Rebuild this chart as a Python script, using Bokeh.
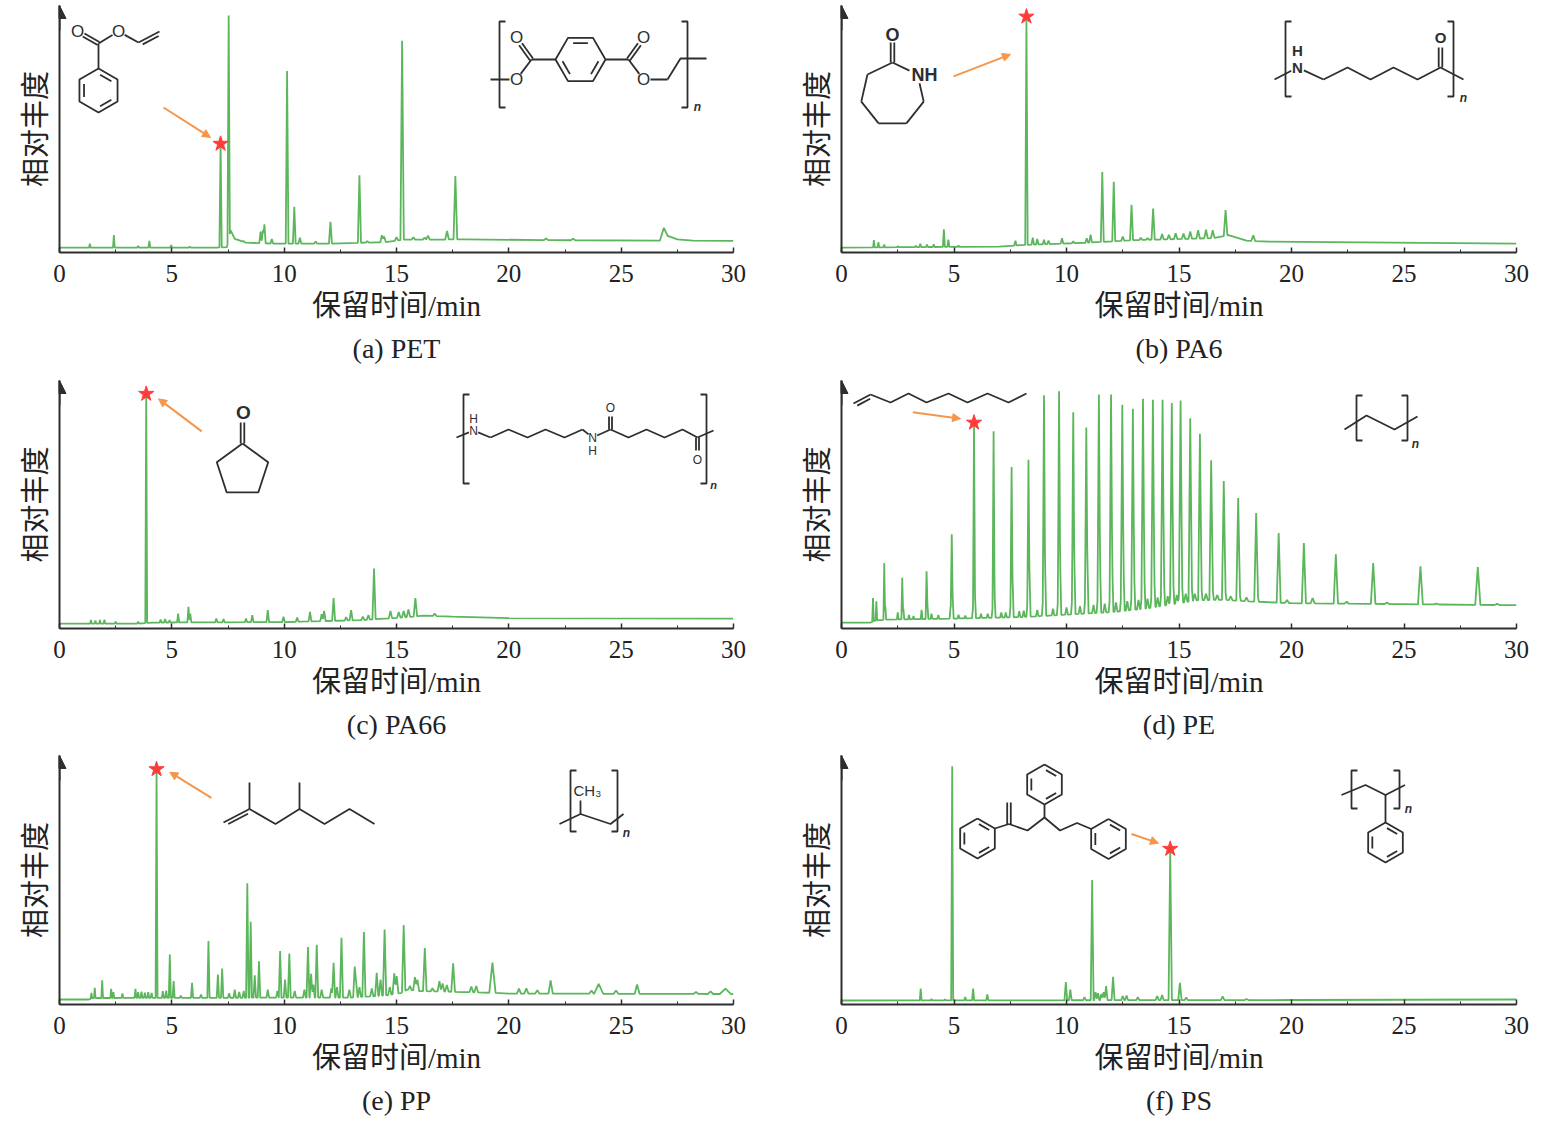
import numpy as np
from bokeh.plotting import figure
from bokeh.models import Arrow, NormalHead, Title, SingleIntervalTicker, FixedTicker, Range1d
from bokeh.layouts import column, row
from bokeh.embed import file_html
from bokeh.resources import INLINE
from bokeh.core.properties import value

# ---------------- data (retention time in min, relative abundance 0-100) ----------------
A_BASE_T = [0, 7.0, 7.45, 7.62, 7.8, 8.3, 9.5, 12.0, 14.5, 15.35, 18.0, 22.0, 26.75, 27.1, 27.5, 28.2, 30]
A_BASE_Y = [2.0, 2.0, 2.2, 9.0, 5.5, 4.0, 3.6, 3.6, 4.2, 5.2, 5.3, 5.0, 4.8, 6.6, 5.3, 4.8, 4.7]
A_PEAK_T = [1.35, 2.42, 3.5, 4.0, 4.97, 5.8, 7.17, 7.53, 8.2, 8.95, 9.05, 9.12, 9.45, 10.13, 10.45, 10.7,
            11.4, 12.06, 13.35, 13.7, 14.35, 14.45, 15.0, 15.25, 15.75, 16.25, 16.4, 17.25, 17.62, 21.66, 22.86]
A_PEAK_H = [3.6, 7.1, 2.6, 4.7, 3.0, 2.4, 44.0, 96.0, 4.6, 8.5, 9.0, 11.4, 5.5, 73.5, 18.5, 6.0,
            4.5, 12.4, 31.3, 4.6, 7.0, 6.5, 6.2, 85.7, 6.2, 6.0, 6.8, 8.7, 31.0, 5.7, 5.6]
A_BROAD_T = [26.9]
A_BROAD_H = [10.0]
A_BROAD_W = [0.18]

B_BASE_T = [0, 7.0, 8.0, 11.0, 13.0, 16.5, 17.2, 18.0, 19.0, 30]
B_BASE_Y = [2.0, 2.4, 3.0, 4.0, 5.0, 5.8, 7.0, 4.8, 4.4, 3.6]
B_PEAK_T = [1.44, 1.64, 1.9, 2.5, 3.3, 3.5, 3.8, 4.1, 4.55, 4.75, 5.2, 7.73, 8.22, 8.5, 8.7, 9.0, 9.2, 9.8,
            10.3, 10.9, 11.07, 11.59, 12.1, 12.5, 12.89, 13.3, 13.6, 13.85, 14.25, 14.55, 14.85, 15.2,
            15.5, 15.85, 16.2, 16.5, 17.07, 18.3]
B_PEAK_H = [5.0, 4.2, 3.2, 2.6, 2.8, 3.6, 3.2, 3.3, 9.4, 5.2, 2.8, 4.8, 94.0, 6.0, 5.5, 5.2, 4.8, 5.8,
            4.5, 5.8, 7.2, 32.6, 28.6, 6.5, 19.3, 6.0, 5.8, 17.8, 7.5, 7.2, 7.8, 7.7,
            8.5, 9.0, 9.2, 9.0, 17.2, 7.0]

C_BASE_T = [0, 3.5, 4.2, 10.0, 13.5, 15.5, 16.2, 17.5, 20.0, 30]
C_BASE_Y = [2.0, 2.0, 2.4, 2.6, 3.4, 4.6, 5.2, 4.8, 4.2, 4.0]
C_PEAK_T = [1.4, 1.6, 1.8, 2.0, 2.5, 3.5, 3.86, 4.5, 4.7, 4.9, 5.28, 5.74, 5.82, 6.98, 7.3, 8.3, 8.58,
            9.27, 9.97, 10.58, 11.15, 11.67, 11.78, 12.2, 12.76, 12.98, 13.5, 13.75, 14.0, 14.73, 15.1,
            15.32, 15.53, 15.84, 16.7]
C_PEAK_H = [3.4, 3.2, 3.4, 3.6, 2.8, 2.8, 94.6, 3.6, 3.8, 3.4, 6.0, 8.7, 6.0, 4.0, 3.8, 4.0, 5.4,
            7.4, 4.7, 4.4, 6.7, 5.8, 7.1, 12.3, 4.6, 7.4, 4.8, 5.4, 24.2, 7.1, 6.7,
            7.1, 7.7, 12.3, 6.0]

D_BASE_T = [0, 1.3, 1.5, 2.0, 5.0, 8.0, 10.0, 12.0, 13.5, 15.0, 15.8, 17.0, 18.0, 20.0, 25.0, 30]
D_BASE_Y = [2.4, 2.4, 3.2, 3.6, 4.0, 4.6, 5.6, 6.6, 8.0, 10.2, 11.4, 11.6, 11.0, 10.2, 9.8, 9.4]
D_PEAK_T = [1.4, 1.55, 1.9, 2.7, 3.56, 3.78, 4.9, 5.89, 6.76, 7.56, 8.31, 9.0, 9.67, 10.3, 10.88, 11.44,
            11.98, 12.48, 12.95, 13.4, 13.84, 14.27, 14.68, 15.07, 15.5, 15.93, 16.43, 16.99, 17.63,
            18.43, 19.43, 20.55, 20.94, 21.97, 22.45, 23.63, 24.24, 25.73, 26.44, 28.28, 29.14]
D_PEAK_H = [12.3, 11.0, 26.4, 20.5, 7.5, 23.1, 38.0, 82.6, 79.5, 65.1, 68.0, 94.0, 95.7, 87.2, 81.0, 94.4,
            94.4, 90.2, 88.6, 92.6, 92.2, 92.2, 90.9, 91.9, 84.8, 78.5, 67.8, 59.5, 52.6,
            46.6, 38.5, 34.5, 12.3, 29.9, 10.8, 26.4, 10.5, 25.1, 10.0, 24.8, 9.9]
D_MINOR_T = [1.95, 2.5, 2.75, 3.0, 3.2, 3.82, 4.0, 4.3, 4.85, 4.94, 5.2, 5.5, 5.85, 5.93, 6.2, 6.5, 6.72,
             6.8, 7.1, 7.3, 7.52, 7.6, 7.9, 8.1, 8.27, 8.35, 8.7, 8.96, 9.04, 9.4, 9.63, 9.71, 10.0,
             10.26, 10.34, 10.6, 10.84, 10.92, 11.2, 11.4, 11.48, 11.7, 11.94, 12.02, 12.2, 12.44,
             12.52, 12.7, 12.91, 12.99, 13.2, 13.36, 13.44, 13.6, 13.8, 13.88, 14.05, 14.23, 14.31,
             14.5, 14.64, 14.72, 14.9, 15.03, 15.11, 15.3, 15.54, 15.7, 15.97, 16.2, 16.47, 16.7,
             17.03, 17.3, 17.67, 18.0, 18.47, 19.8]
D_MINOR_H = [9.0, 6.5, 8.0, 5.5, 5.0, 9.5, 6.0, 5.5, 9.0, 13.0, 5.5, 5.2, 9.0, 14.0, 6.0, 6.0, 9.0,
             14.0, 6.5, 6.5, 10.0, 20.8, 7.0, 7.2, 11.0, 24.8, 7.5, 12.0, 28.9, 8.0, 12.0, 30.0, 8.5,
             13.0, 30.0, 9.0, 13.0, 30.0, 9.5, 14.0, 30.0, 10.0, 14.0, 30.0, 10.5, 14.0,
             28.0, 11.0, 15.0, 27.0, 11.5, 15.0, 26.0, 12.0, 15.5, 25.0, 12.5, 16.0, 24.0,
             13.0, 16.0, 23.0, 13.5, 16.0, 22.0, 14.0, 20.0, 14.0, 19.0, 14.0, 18.0, 13.5,
             17.0, 13.0, 15.0, 12.5, 14.0, 11.5]

E_BASE_T = [0, 1.3, 1.5, 13.0, 14.5, 15.2, 15.5, 16.0, 18.0, 19.6, 20.0, 30]
E_BASE_Y = [2.0, 2.0, 2.6, 2.8, 3.6, 4.6, 6.0, 5.4, 5.0, 4.6, 4.4, 4.2]
E_PEAK_T = [1.42, 1.57, 1.9, 2.3, 2.4, 2.8, 3.38, 3.5, 3.65, 3.8, 3.95, 4.1, 4.32, 4.6, 4.75, 4.91, 5.08,
            5.4, 5.9, 6.3, 6.63, 7.05, 7.24, 7.55, 7.8, 8.0, 8.2, 8.36, 8.51, 8.69, 8.88, 9.27, 9.7,
            9.82, 10.04, 10.23, 10.47, 10.9, 11.06, 11.2, 11.3, 11.45, 11.67, 12.1, 12.2, 12.35,
            12.55, 12.9, 13.14, 13.2, 13.35, 13.55, 13.9, 14.12, 14.29, 14.47, 14.7, 14.9, 15.01,
            15.32, 15.6, 15.82, 15.93, 16.26, 16.6, 16.91, 17.05, 17.24, 17.52, 18.33, 18.55,
            20.45, 20.78, 21.27, 21.86, 23.68, 24.77, 25.71, 28.33, 28.98]
E_PEAK_H = [4.7, 6.7, 9.7, 6.3, 5.0, 4.4, 6.3, 5.0, 5.2, 4.8, 5.0, 4.6, 94.0, 5.4, 5.6, 20.1, 9.4,
            3.6, 8.7, 4.0, 25.5, 12.0, 14.4, 4.5, 6.0, 5.0, 5.5, 48.7, 33.2, 11.7, 17.4, 6.0, 5.5,
            21.5, 10.0, 20.5, 5.5, 6.0, 23.1, 12.3, 8.0, 24.0, 6.0, 6.5, 16.8, 7.0,
            26.8, 6.0, 15.2, 9.4, 7.0, 29.1, 6.5, 12.7, 10.0, 30.1, 7.0, 12.5, 11.4,
            31.9, 7.5, 11.0, 10.0, 22.7, 6.5, 9.4, 8.5, 7.8, 16.5, 7.2, 7.4,
            6.4, 6.5, 5.7, 9.7, 5.6, 5.6, 8.0, 5.0, 5.3]
E_BROAD_T = [19.27, 24.0, 29.64]
E_BROAD_H = [16.8, 8.3, 6.4]
E_BROAD_W = [0.14, 0.2, 0.25]

F_BASE_T = [0, 20.0, 30]
F_BASE_Y = [1.6, 1.8, 2.0]
F_PEAK_T = [3.52, 4.0, 4.6, 4.92, 5.5, 5.85, 6.48, 9.97, 10.17, 10.8, 11.14, 11.29, 11.4, 11.55, 11.65,
            11.76, 12.07, 12.5, 12.67, 13.17, 14.03, 14.25, 14.61, 15.04, 15.32, 16.94, 18.0]
F_PEAK_H = [6.4, 2.2, 2.0, 95.7, 3.0, 6.4, 4.0, 9.0, 6.0, 3.0, 50.0, 5.0, 4.5, 4.2, 5.0,
            7.4, 11.1, 3.4, 3.6, 3.0, 3.4, 3.8, 61.7, 8.7, 2.8, 3.2, 2.2]

CAPTIONS = ["(a) PET", "(b) PA6", "(c) PA66", "(d) PE", "(e) PP", "(f) PS"]
STAR_T = [7.17, 8.22, 3.86, 5.89, 4.32, 14.61]
STAR_H = [44.0, 95.5, 94.6, 83.0, 94.5, 62.5]
ARROW_T0 = [4.63, 4.98, 6.33, 3.17, 6.76, 12.89]
ARROW_H0 = [58.7, 71.3, 79.5, 87.2, 83.0, 68.5]
ARROW_T1 = [6.72, 7.51, 4.41, 5.29, 4.91, 14.09]
ARROW_H1 = [46.6, 80.2, 92.6, 84.6, 93.3, 64.8]
X_TICK_STEP = 5
X_MAX = 30

# ---------------- styles / layout ----------------
GREEN = "#5cb65c"
INK = "#2e2e2e"
STAR = "#ff3b3b"
ORANGE = "#f5964a"
ROWS = [dict(top=5, fh=247, bottom=126, ymax=100.0, oy=252),
        dict(top=2, fh=248, bottom=126, ymax=100.0, oy=628),
        dict(top=1, fh=249, bottom=114, ymax=100.0, oy=1004)]
COLS = [dict(left=59, fw=674, right=55, ox=59),
        dict(left=53, fw=675, right=18, ox=841)]


def trace(bl_t, bl_y, pk_t, pk_h, br_t=(), br_h=(), br_w=()):
    """Chromatogram outline: baseline + narrow peaks (apex = read height)."""
    bl_t = np.asarray(bl_t, float)
    bl_y = np.asarray(bl_y, float)
    pt = np.asarray(pk_t, float)
    t = np.concatenate([pt, np.asarray(br_t, float)])
    h = np.concatenate([np.asarray(pk_h, float), np.asarray(br_h, float)])
    w = np.concatenate([0.03 + 0.003 * pt, np.asarray(br_w, float)])
    amp = np.clip(h - np.interp(t, bl_t, bl_y), 0, None)
    xs = np.unique(np.concatenate([bl_t, t - w, t, t + w]))
    xs = xs[(xs >= 0) & (xs <= X_MAX)]
    bump = np.zeros_like(xs)
    for ti, ai, wi in zip(t, amp, w):
        bump = np.maximum(bump, ai * np.clip(1 - np.abs(xs - ti) / wi, 0, None))
    return xs, np.interp(xs, bl_t, bl_y) + bump


class Mol:
    def __init__(self):
        self.lines = []
        self.labels = []

    def path(self, *pts):
        self.lines.append([tuple(p) for p in pts])

    @staticmethod
    def _trim(p, q, t0, t1):
        p = np.array(p, float)
        q = np.array(q, float)
        d = q - p
        L = np.hypot(*d)
        u = d / L
        return p + u * t0, q - u * t1

    def bond(self, p, q, trim0=0, trim1=0):
        a, b = self._trim(p, q, trim0, trim1)
        self.path(a, b)

    def double(self, p, q, trim0=0, trim1=0, side=0, d=3.6):
        a, b = self._trim(p, q, trim0, trim1)
        u = (b - a) / np.hypot(*(b - a))
        n = np.array([-u[1], u[0]])
        if side == 0:
            self.path(a + n * d / 2, b + n * d / 2)
            self.path(a - n * d / 2, b - n * d / 2)
        else:
            self.path(a, b)
            L = np.hypot(*(b - a))
            self.path(a + n * d * side + u * L * 0.12, b + n * d * side - u * L * 0.12)

    def ring(self, cx, cy, r, n, a0, inner=(), trims=None):
        trims = trims or {}
        ang = np.radians(a0 + 360.0 / n * np.arange(n))
        v = np.column_stack([cx + r * np.cos(ang), cy - r * np.sin(ang)])
        if not trims:
            self.path(*v, v[0])
        else:
            for k in range(n):
                self.bond(v[k], v[(k + 1) % n], trims.get(k, 0), trims.get((k + 1) % n, 0))
        c = np.array([cx, cy])
        for k in inner:
            p = c + 0.76 * (v[k] - c)
            q = c + 0.76 * (v[(k + 1) % n] - c)
            m = (p + q) / 2
            self.path(m + (p - m) * 0.78, m + (q - m) * 0.78)
        return v

    def bracket(self, x, y0, y1, dirn):
        self.path((x + 6 * dirn, y0), (x, y0), (x, y1), (x + 6 * dirn, y1))

    def label(self, x, y, s, size=15, style="normal", align="center"):
        self.labels.append((x, y, s, size, style, align))


def structures():
    mols = []
    # (a) vinyl benzoate + PET
    m = Mol()
    m.ring(98, 90, 22, 6, 90, inner=(1, 3, 5))
    m.bond((98, 68), (98, 43))
    m.double((98, 43), (77, 31), trim1=7)
    m.bond((98, 43), (118, 31), trim1=7)
    m.bond((118, 31), (138, 42), trim0=7)
    m.double((138, 42), (159, 31), side=1)
    m.label(77, 31, "O", 17)
    m.label(118, 31, "O", 17)
    m.bracket(499, 21, 107, 1)
    m.bracket(687, 21, 107, -1)
    m.label(697, 106, "n", 12, "bold italic")
    m.bond((490, 79), (509, 79))
    m.label(516, 79, "O", 17)
    m.bond((516, 79), (531, 59), trim0=7)
    m.double((531, 59), (516, 38), trim1=7)
    m.label(516, 37, "O", 17)
    m.bond((531, 59), (555, 59))
    m.ring(580, 59, 25, 6, 0, inner=(1, 3, 5))
    m.bond((605, 59), (628, 59))
    m.double((628, 59), (643, 38), trim1=7)
    m.label(643, 37, "O", 17)
    m.bond((628, 59), (643, 79), trim1=7)
    m.label(643, 79, "O", 17)
    m.bond((643, 79), (667, 79), trim0=7)
    m.path((667, 79), (680, 58), (706, 58))
    mols.append(m)
    # (b) caprolactam + PA6
    m = Mol()
    m.ring(892, 94, 32, 7, 90, trims={6: 9})
    m.double((892, 62), (892, 42))
    m.label(892, 34, "O", 18, "bold")
    m.label(911, 74, "NH", 18, "bold", "left")
    m.bracket(1285, 21, 96, 1)
    m.bracket(1453, 21, 96, -1)
    m.label(1463, 97, "n", 12, "bold italic")
    m.bond((1274, 79), (1297, 67), trim1=7)
    m.label(1297, 67, "N", 15, "bold")
    m.label(1297, 50, "H", 15, "bold")
    m.bond((1297, 67), (1323, 79), trim0=7)
    m.path((1323, 79), (1347, 67), (1370, 79), (1393, 67), (1417, 79), (1440, 67), (1463, 79))
    m.double((1440, 67), (1440, 40), trim1=7)
    m.label(1440, 37, "O", 15, "bold")
    mols.append(m)
    # (c) cyclopentanone + PA66
    m = Mol()
    m.ring(242, 470, 27, 5, 90)
    m.double((242, 443), (242, 422))
    m.label(243, 412, "O", 19, "bold")
    m.bracket(463, 394, 483, 1)
    m.bracket(706, 394, 483, -1)
    m.label(713, 484, "n", 11, "bold italic")
    m.bond((456, 437), (473, 430), trim1=5)
    m.label(473, 430, "N", 12)
    m.label(473, 418, "H", 12)
    m.bond((473, 430), (490, 437), trim0=5)
    m.path((490, 437), (508, 429), (527, 437), (545, 429), (564, 437), (582, 429))
    m.bond((582, 429), (592, 437), trim1=5)
    m.label(592, 437, "N", 12)
    m.label(592, 450, "H", 12)
    m.bond((592, 437), (610, 429), trim0=5)
    m.double((610, 429), (610, 412), trim1=4, d=3)
    m.label(610, 407, "O", 12)
    m.path((610, 429), (628, 437), (646, 429), (664, 437), (682, 429), (697, 437))
    m.double((697, 437), (697, 454), trim1=4, d=3)
    m.label(697, 459, "O", 12)
    m.bond((697, 437), (713, 430))
    mols.append(m)
    # (d) 1-decene + PE
    m = Mol()
    m.double((853, 403), (870, 394), side=1)
    m.path((870, 394), (890, 402), (908, 393), (926, 402), (948, 393), (967, 402), (987, 393),
           (1008, 402), (1026, 393))
    m.bracket(1356, 395, 440, 1)
    m.bracket(1407, 395, 440, -1)
    m.label(1415, 443, "n", 12, "bold italic")
    m.path((1344, 429), (1366, 415), (1394, 429), (1417, 416))
    mols.append(m)
    # (e) 2,4-dimethyl-1-heptene + PP
    m = Mol()
    m.double((223, 822), (249, 808.5), side=1)
    m.path((249, 808.5), (275, 823.5), (299, 808.5), (324, 823.5), (349, 808.5), (374, 823.5))
    m.bond((249, 808.5), (249, 782))
    m.bond((299, 808.5), (299, 782))
    m.bracket(570, 770, 831, 1)
    m.bracket(617, 770, 831, -1)
    m.label(626, 832, "n", 12, "bold italic")
    m.path((559, 823.5), (580, 813.5), (610, 823.5), (623, 813.5))
    m.bond((580, 813.5), (580, 800))
    m.label(573, 790, "CH\u2083", 15, "normal", "left")
    mols.append(m)
    # (f) styrene trimer + PS
    m = Mol()
    m.ring(977, 838, 20, 6, 90, inner=(1, 3, 5))
    m.bond((994.3, 828), (1008.5, 823.5))
    m.double((1008.5, 823.5), (1008.5, 802))
    m.path((1008.5, 823.5), (1027, 830), (1044, 817), (1059.5, 830), (1076.5, 822.5), (1090.7, 828.5))
    m.bond((1044, 817), (1044, 804))
    m.ring(1044, 784, 20, 6, 90, inner=(1, 3, 5))
    m.ring(1108, 838.5, 20, 6, 90, inner=(1, 3, 5))
    m.bracket(1351, 770, 808, 1)
    m.bracket(1399, 770, 808, -1)
    m.label(1408, 808, "n", 12, "bold italic")
    m.path((1341, 794.5), (1365, 784.5), (1385, 794.5), (1404.5, 784.5))
    m.bond((1385, 794.5), (1385, 822))
    m.ring(1385, 842, 20, 6, 90, inner=(1, 3, 5))
    mols.append(m)
    return mols


SERIES = [
    (A_BASE_T, A_BASE_Y, A_PEAK_T, A_PEAK_H, A_BROAD_T, A_BROAD_H, A_BROAD_W),
    (B_BASE_T, B_BASE_Y, B_PEAK_T, B_PEAK_H, [], [], []),
    (C_BASE_T, C_BASE_Y, C_PEAK_T, C_PEAK_H, [], [], []),
    (D_BASE_T, D_BASE_Y, D_PEAK_T + D_MINOR_T, D_PEAK_H + D_MINOR_H, [], [], []),
    (E_BASE_T, E_BASE_Y, E_PEAK_T, E_PEAK_H, E_BROAD_T, E_BROAD_H, E_BROAD_W),
    (F_BASE_T, F_BASE_Y, F_PEAK_T, F_PEAK_H, [], [], []),
]

MOLS = structures()


def make_panel(i):
    R = ROWS[i // 2]
    C = COLS[i % 2]
    p = figure(frame_width=C["fw"], frame_height=R["fh"],
               min_border_left=C["left"], min_border_right=C["right"],
               min_border_top=R["top"], min_border_bottom=R["bottom"],
               x_range=Range1d(0, X_MAX), y_range=Range1d(0, R["ymax"]),
               output_backend="svg", toolbar_location=None,
               background_fill_color="white", border_fill_color="white")
    p.outline_line_color = None
    p.xgrid.visible = False
    p.ygrid.visible = False

    xa = p.xaxis[0]
    xa.ticker = SingleIntervalTicker(interval=X_TICK_STEP, num_minor_ticks=2)
    xa.axis_line_width = 2
    xa.axis_line_color = INK
    xa.major_tick_in = 5
    xa.major_tick_out = 0
    xa.minor_tick_in = 3
    xa.minor_tick_out = 0
    xa.major_tick_line_color = INK
    xa.minor_tick_line_color = INK
    xa.major_tick_line_width = 1.5
    xa.major_label_text_font = "Liberation Serif"
    xa.major_label_text_font_size = "25px"
    xa.major_label_text_color = "#222222"
    xa.major_label_standoff = 12
    xa.axis_label = "保留时间/min"
    xa.axis_label_text_font = "Liberation Serif, Noto Sans CJK SC"
    xa.axis_label_text_font_size = "29px"
    xa.axis_label_text_font_style = "normal"
    xa.axis_label_text_color = "#222222"
    xa.axis_label_standoff = 5

    ya = p.yaxis[0]
    ya.ticker = FixedTicker(ticks=[])
    ya.axis_line_width = 2
    ya.axis_line_color = INK
    ya.major_tick_line_color = None
    ya.minor_tick_line_color = None
    ya.axis_label = "相对丰度"
    ya.axis_label_text_font = "Noto Sans CJK SC"
    ya.axis_label_text_font_size = "29px"
    ya.axis_label_text_font_style = "normal"
    ya.axis_label_text_color = "#222222"
    ya.axis_label_standoff = 6

    p.add_layout(Title(text=CAPTIONS[i], align="center", text_font="Liberation Serif",
                       text_font_size="28px", text_font_style="normal", text_color="#222222",
                       standoff=12), "below")

    # y axis arrow head
    ymax = R["ymax"]
    p.add_layout(Arrow(end=NormalHead(size=13, fill_color=INK, line_color=INK, line_width=1),
                       x_start=0, y_start=ymax * 0.9, x_end=0, y_end=ymax,
                       line_color=INK, line_width=2))

    bl_t, bl_y, pt, ph, bt, bh, bw = SERIES[i]
    xs, ys = trace(bl_t, bl_y, pt, ph, bt, bh, bw)
    p.line(xs, ys, line_color=GREEN, line_width=1.8)

    # structures (drawn in frame coordinates)
    kx = X_MAX / C["fw"]
    ky = ymax / R["fh"]
    ox, oy = C["ox"], R["oy"]
    m = MOLS[i]
    p.multi_line([[(x - ox) * kx for x, _ in ln] for ln in m.lines],
                 [[(oy - y) * ky for _, y in ln] for ln in m.lines],
                 line_color=INK, line_width=1.8)
    for (x, y, s, size, style, align) in m.labels:
        p.text([(x - ox) * kx], [(oy - y) * ky], text=[s], text_font=value("Liberation Sans"),
               text_font_size=f"{size}px", text_font_style=style, text_align=align,
               text_baseline="middle", text_color=INK)

    # marker arrow + star
    p.add_layout(Arrow(end=NormalHead(size=8, fill_color=ORANGE, line_color=ORANGE, line_width=1),
                       x_start=ARROW_T0[i], y_start=ARROW_H0[i], x_end=ARROW_T1[i], y_end=ARROW_H1[i],
                       line_color=ORANGE, line_width=2))
    p.scatter([STAR_T[i]], [STAR_H[i]], marker="star", size=16, fill_color=STAR, line_color=STAR)
    return p


panels = [make_panel(i) for i in range(6)]
layout = column(row(panels[0], panels[1]), row(panels[2], panels[3]), row(panels[4], panels[5]))
open("out.html", "w").write(file_html(layout, INLINE))
